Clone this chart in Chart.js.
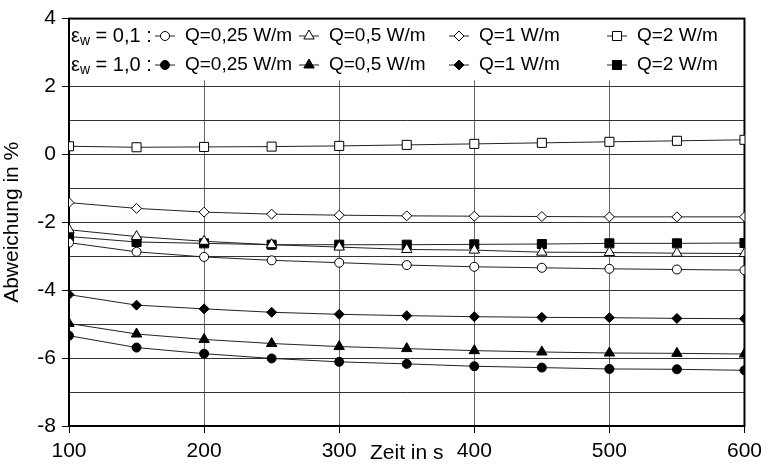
<!DOCTYPE html>
<html>
<head>
<meta charset="utf-8">
<script src="https://cdn.jsdelivr.net/npm/chart.js@4.4.1/dist/chart.umd.min.js"></script>
<style>
  html, body { margin: 0; padding: 0; background: #fff; }
</style>
</head>
<body>
<canvas id="chart" width="768" height="468"></canvas>
<script>
// time axis (s)
const zeit = [100, 150, 200, 250, 300, 350, 400, 450, 500, 550, 600];

// eps_w = 0,1 (open markers)
const eps01_q025 = [-2.60, -2.87, -3.02, -3.12, -3.19, -3.26, -3.31, -3.34, -3.37, -3.39, -3.41];
const eps01_q05  = [-2.22, -2.42, -2.56, -2.66, -2.73, -2.80, -2.82, -2.88, -2.89, -2.91, -2.92];
const eps01_q1   = [-1.42, -1.59, -1.70, -1.76, -1.79, -1.81, -1.82, -1.83, -1.84, -1.84, -1.84];
const eps01_q2   = [0.24, 0.21, 0.22, 0.23, 0.25, 0.28, 0.31, 0.34, 0.37, 0.40, 0.43];

// eps_w = 1,0 (filled markers)
const eps10_q025 = [-5.34, -5.69, -5.87, -6.01, -6.11, -6.17, -6.24, -6.28, -6.32, -6.33, -6.36];
const eps10_q05  = [-4.98, -5.29, -5.45, -5.57, -5.66, -5.72, -5.78, -5.82, -5.85, -5.86, -5.88];
const eps10_q1   = [-4.13, -4.44, -4.55, -4.65, -4.71, -4.75, -4.78, -4.80, -4.81, -4.83, -4.84];
const eps10_q2   = [-2.42, -2.58, -2.62, -2.66, -2.66, -2.66, -2.65, -2.64, -2.62, -2.62, -2.61];

const qLabels = ['Q=0,25 W/m', 'Q=0,5 W/m', 'Q=1 W/m', 'Q=2 W/m'];
const epsLabels = ['0,1', '1,0'];
const markers = ['circle', 'triangle', 'rectRot', 'rect'];
const markerSize = { circle: 4.5, triangle: 6, rectRot: 5, rect: 6.4 };

const FONT = '"Liberation Sans", Arial, sans-serif';

function series(values, i, filled) {
  const style = markers[i];
  return {
    label: qLabels[i],
    data: zeit.map((t, k) => ({ x: t, y: values[k] })),
    borderColor: '#222',
    borderWidth: 1,
    pointStyle: style,
    pointRadius: markerSize[style],
    pointHoverRadius: markerSize[style],
    pointBackgroundColor: filled ? '#000' : '#fff',
    pointBorderColor: '#000',
    pointBorderWidth: 1,
    tension: 0
  };
}

const datasets = [
  series(eps01_q025, 0, false), series(eps01_q05, 1, false),
  series(eps01_q1, 2, false), series(eps01_q2, 3, false),
  series(eps10_q025, 0, true), series(eps10_q05, 1, true),
  series(eps10_q1, 2, true), series(eps10_q2, 3, true)
];

// legend: marker centre x of each column, row centres y
const legendCols = [165, 309, 459, 617];
const legendRows = [36, 65];

const framePlugin = {
  id: 'frame',
  beforeDatasetsDraw(chart) {
    const { ctx, chartArea: a, scales: { y } } = chart;
    ctx.save();
    // white legend box hides the grid at the top
    ctx.fillStyle = '#fff';
    ctx.fillRect(a.left, a.top, a.right - a.left, y.getPixelForValue(2.18) - a.top);
    ctx.lineWidth = 2;
    ctx.strokeStyle = '#000';
    ctx.strokeRect(a.left, a.top, a.right - a.left, a.bottom - a.top);
    ctx.restore();
  },
  afterDatasetsDraw(chart) {
    const { ctx, chartArea: a } = chart;
    ctx.save();
    ctx.textBaseline = 'middle';
    ctx.fillStyle = '#000';
    legendRows.forEach((ry, r) => {
      let x = a.left + 2;
      ctx.font = '20px ' + FONT;
      ctx.fillText('ε', x, ry);
      x += ctx.measureText('ε').width;
      ctx.font = '14px ' + FONT;
      ctx.fillText('w', x, ry + 5);
      x += ctx.measureText('w').width;
      ctx.font = '20px ' + FONT;
      ctx.fillText(' = ' + epsLabels[r] + ' :', x, ry);
      for (let i = 0; i < 4; i++) {
        const ds = chart.data.datasets[r * 4 + i];
        const cx = legendCols[i];
        ctx.strokeStyle = '#222';
        ctx.lineWidth = 1;
        ctx.beginPath();
        ctx.moveTo(cx - 10, ry);
        ctx.lineTo(cx + 10, ry);
        ctx.stroke();
        ctx.fillStyle = ds.pointBackgroundColor;
        ctx.strokeStyle = '#000';
        Chart.helpers.drawPoint(ctx, {
          pointStyle: ds.pointStyle, radius: ds.pointRadius, rotation: 0, borderWidth: 1
        }, cx, ry);
        ctx.fillStyle = '#000';
        ctx.font = '19px ' + FONT;
        ctx.fillText(ds.label, cx + 20, ry);
      }
    });
    // x axis title sits in the tick label row
    ctx.font = '21px ' + FONT;
    ctx.textAlign = 'center';
    ctx.fillText('Zeit in s', (a.left + a.right) / 2, 453);
    ctx.restore();
  }
};

new Chart(document.getElementById('chart'), {
  type: 'line',
  data: { datasets: datasets },
  options: {
    responsive: false,
    animation: false,
    devicePixelRatio: 1,
    layout: { padding: { left: 0, right: 20, top: 9, bottom: 0 } },
    plugins: { legend: { display: false }, tooltip: { enabled: false } },
    scales: {
      x: {
        type: 'linear',
        min: 100, max: 600,
        ticks: { stepSize: 100, color: '#000', font: { family: FONT, size: 21 }, padding: 6, maxRotation: 0 },
        grid: { color: '#666', lineWidth: 1, tickLength: 7, tickColor: '#000' },
        border: { color: '#000', width: 2 },
        afterFit(s) { s.height = 42; }
      },
      y: {
        min: -8, max: 4,
        ticks: {
          stepSize: 1, color: '#000', font: { family: FONT, size: 21 }, padding: 6,
          callback: v => (v % 2 === 0 ? String(v) : '')
        },
        grid: {
          color: '#333', lineWidth: 1, tickLength: 7,
          tickColor: c => (c.tick && c.tick.value % 2 !== 0 ? 'rgba(0,0,0,0)' : '#000')
        },
        border: { color: '#000', width: 2 },
        title: { display: true, text: 'Abweichung in %', color: '#000', font: { family: FONT, size: 21 }, padding: 0 },
        afterFit(s) { s.width = 69; }
      }
    }
  },
  plugins: [framePlugin]
});
</script>
</body>
</html>
